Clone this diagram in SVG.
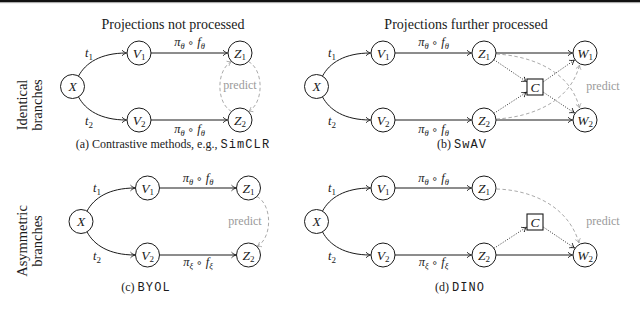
<svg xmlns="http://www.w3.org/2000/svg" width="640" height="315" viewBox="0 0 640 315">
<style>
.node{fill:#fff;stroke:#1a1a1a;stroke-width:1}
.box{fill:#fff;stroke:#1a1a1a;stroke-width:1.1}
.lbl{font-family:"Liberation Serif","Times New Roman",serif;font-style:italic;font-size:13.5px;fill:#1a1a1a;text-anchor:middle}
.sub{font-style:normal;font-size:9px}
.isub{font-size:8.5px}
.el{font-family:"Liberation Serif","DejaVu Serif",serif;font-style:italic;font-size:12.5px;fill:#1a1a1a;text-anchor:middle}
.op{font-style:normal;font-family:"DejaVu Sans",sans-serif;font-size:10px}
.title{font-family:"Liberation Serif","Times New Roman",serif;font-size:14px;fill:#1a1a1a;text-anchor:middle}
.cap{font-family:"Liberation Serif","Times New Roman",serif;font-size:12px;fill:#1a1a1a;text-anchor:middle}
.mono{font-family:"Liberation Mono","Courier New",monospace;font-size:12px;letter-spacing:1.1px}
.side{font-family:"Liberation Serif","Times New Roman",serif;font-size:14.5px;fill:#1a1a1a;text-anchor:middle}
.pred{font-family:"Liberation Serif","Times New Roman",serif;font-size:12px;fill:#9a9a9a;text-anchor:middle}
.solid{fill:none;stroke:#1a1a1a;stroke-width:1;marker-end:url(#ah)}
.dot{fill:none;stroke:#333;stroke-width:1;stroke-dasharray:1 1.6;marker-end:url(#ah)}
.dash{fill:none;stroke:#a0a0a0;stroke-width:0.9;stroke-dasharray:3.5 2.5;marker-end:url(#ahg)}
</style>
<defs>
<marker id="ah" markerUnits="userSpaceOnUse" markerWidth="8" markerHeight="8" orient="auto" overflow="visible">
<path d="M-4.5,-2.8 C-3,-1.2 -1.2,-0.4 0,0 C-1.2,0.4 -3,1.2 -4.5,2.8" fill="none" stroke="#1a1a1a" stroke-width="0.9"/>
</marker>
<marker id="ahg" markerUnits="userSpaceOnUse" markerWidth="8" markerHeight="8" orient="auto" overflow="visible">
<path d="M-4.2,-2.6 C-2.8,-1.1 -1.1,-0.4 0,0 C-1.1,0.4 -2.8,1.1 -4.2,2.6" fill="none" stroke="#a0a0a0" stroke-width="0.8"/>
</marker>
</defs>
<rect x="0" y="0" width="640" height="315" fill="#fff"/>
<rect x="0" y="0" width="640" height="2.2" fill="#111"/>
<line x1="0" y1="2.7" x2="640" y2="2.7" stroke="#888" stroke-width="0.6"/>

<g id="texts">
<text class="title" x="173" y="29">Projections not processed</text>
<text class="title" x="466" y="29">Projections further processed</text>
<text class="side" transform="translate(27,105) rotate(-90)">Identical</text>
<text class="side" transform="translate(42,105) rotate(-90)">branches</text>
<text class="side" transform="translate(27,241) rotate(-90)">Asymmetric</text>
<text class="side" transform="translate(42,241) rotate(-90)">branches</text>
<text class="cap" x="173" y="148">(a) Contrastive methods, e.g., <tspan class="mono">SimCLR</tspan></text>
<text class="cap" x="462" y="148">(b) <tspan class="mono">SwAV</tspan></text>
<text class="cap" x="146" y="291">(c) <tspan class="mono">BYOL</tspan></text>
<text class="cap" x="460" y="291">(d) <tspan class="mono">DINO</tspan></text>
</g>

<g id="connectors">
<!-- (a) -->
<path class="solid" d="M78.5,76.1 C85.5,63 100.5,53 126.5,53"/>
<path class="solid" d="M78.5,96.9 C85.5,110 100.5,120 126.5,120"/>
<path class="solid" d="M151,53 H227.5"/>
<path class="solid" d="M151,120 H227.5"/>
<path class="dash" d="M231.5,111.5 C216,103 216,70 231.5,61.5"/>
<path class="dash" d="M248.5,61.5 C264,70 264,103 248.5,111.5"/>
<!-- (b) -->
<path class="solid" d="M322.5,76.1 C329.5,63 344.5,53 370.5,53"/>
<path class="solid" d="M322.5,96.9 C329.5,110 344.5,120 370.5,120"/>
<path class="solid" d="M395,53 H471.5"/>
<path class="solid" d="M395,120 H471.5"/>
<path class="solid" d="M496,53 H572.5"/>
<path class="solid" d="M496,120 H572.5"/>
<path class="dot" d="M494,59.7 L526.5,81.7"/>
<path class="dot" d="M494,113.3 L526.5,92.3"/>
<path class="dot" d="M543.5,81.7 L574.5,60"/>
<path class="dot" d="M543.5,92.3 L574.5,113"/>
<path class="dash" d="M496.5,54 C530,56 570,70 579.5,108"/>
<path class="dash" d="M496.5,119 C530,117 570,103 579.5,65"/>
<!-- (c) -->
<path class="solid" d="M87,211.1 C94,198 109,188 135,188"/>
<path class="solid" d="M87,231.9 C94,245 109,255 135,255"/>
<path class="solid" d="M159.5,188 H236"/>
<path class="solid" d="M159.5,255 H236"/>
<path class="dash" d="M257,196.5 C272.5,205 272.5,238 257,246.5"/>
<!-- (d) -->
<path class="solid" d="M322.5,211.1 C329.5,198 344.5,188 370.5,188"/>
<path class="solid" d="M322.5,231.9 C329.5,245 344.5,255 370.5,255"/>
<path class="solid" d="M395,188 H471.5"/>
<path class="solid" d="M395,255 H471.5"/>
<path class="solid" d="M496,255 H572.5"/>
<path class="dot" d="M494,248.3 L526.5,227.2"/>
<path class="dot" d="M543.5,227.2 L574.5,248"/>
<path class="dash" d="M496.5,189 C530,190 568,205 579,243"/>
</g>

<g id="edge-labels">
<text class="el" x="89" y="57">t<tspan class="sub" dy="2.5">1</tspan></text>
<text class="el" x="89" y="125">t<tspan class="sub" dy="2.5">2</tspan></text>
<text class="el" x="189.5" y="46">π<tspan class="isub" dy="2.5">θ</tspan><tspan dy="-2.5"> </tspan><tspan class="op">∘</tspan> f<tspan class="isub" dy="2.5">θ</tspan></text>
<text class="el" x="189.5" y="133">π<tspan class="isub" dy="2.5">θ</tspan><tspan dy="-2.5"> </tspan><tspan class="op">∘</tspan> f<tspan class="isub" dy="2.5">θ</tspan></text>
<text class="pred" x="240" y="89">predict</text>

<text class="el" x="332" y="57">t<tspan class="sub" dy="2.5">1</tspan></text>
<text class="el" x="332" y="125">t<tspan class="sub" dy="2.5">2</tspan></text>
<text class="el" x="433.5" y="46">π<tspan class="isub" dy="2.5">θ</tspan><tspan dy="-2.5"> </tspan><tspan class="op">∘</tspan> f<tspan class="isub" dy="2.5">θ</tspan></text>
<text class="el" x="433.5" y="133">π<tspan class="isub" dy="2.5">θ</tspan><tspan dy="-2.5"> </tspan><tspan class="op">∘</tspan> f<tspan class="isub" dy="2.5">θ</tspan></text>
<text class="pred" x="603" y="90">predict</text>

<text class="el" x="97" y="192">t<tspan class="sub" dy="2.5">1</tspan></text>
<text class="el" x="97" y="260">t<tspan class="sub" dy="2.5">2</tspan></text>
<text class="el" x="198" y="182">π<tspan class="isub" dy="2.5">θ</tspan><tspan dy="-2.5"> </tspan><tspan class="op">∘</tspan> f<tspan class="isub" dy="2.5">θ</tspan></text>
<text class="el" x="198" y="266">π<tspan class="isub" dy="2.5">ξ</tspan><tspan dy="-2.5"> </tspan><tspan class="op">∘</tspan> f<tspan class="isub" dy="2.5">ξ</tspan></text>
<text class="pred" x="245" y="225">predict</text>

<text class="el" x="332" y="192">t<tspan class="sub" dy="2.5">1</tspan></text>
<text class="el" x="332" y="260">t<tspan class="sub" dy="2.5">2</tspan></text>
<text class="el" x="433.5" y="182">π<tspan class="isub" dy="2.5">θ</tspan><tspan dy="-2.5"> </tspan><tspan class="op">∘</tspan> f<tspan class="isub" dy="2.5">θ</tspan></text>
<text class="el" x="433.5" y="266">π<tspan class="isub" dy="2.5">ξ</tspan><tspan dy="-2.5"> </tspan><tspan class="op">∘</tspan> f<tspan class="isub" dy="2.5">ξ</tspan></text>
<text class="pred" x="603" y="225">predict</text>
</g>

<!-- (a) nodes -->
<g id="a-X"><circle class="node" cx="72.5" cy="86.5" r="12"/><text class="lbl" x="72.5" y="91.2">X</text></g>
<g id="a-V1"><circle class="node" cx="139" cy="53" r="12"/><text class="lbl" x="139" y="57.5">V<tspan class="sub" dy="2">1</tspan></text></g>
<g id="a-V2"><circle class="node" cx="139" cy="120" r="12"/><text class="lbl" x="139" y="124.5">V<tspan class="sub" dy="2">2</tspan></text></g>
<g id="a-Z1"><circle class="node" cx="240" cy="53" r="12"/><text class="lbl" x="240" y="57.5">Z<tspan class="sub" dy="2">1</tspan></text></g>
<g id="a-Z2"><circle class="node" cx="240" cy="120" r="12"/><text class="lbl" x="240" y="124.5">Z<tspan class="sub" dy="2">2</tspan></text></g>
<!-- (b) nodes -->
<g id="b-X"><circle class="node" cx="316.5" cy="86.5" r="12"/><text class="lbl" x="316.5" y="91.2">X</text></g>
<g id="b-V1"><circle class="node" cx="383" cy="53" r="12"/><text class="lbl" x="383" y="57.5">V<tspan class="sub" dy="2">1</tspan></text></g>
<g id="b-V2"><circle class="node" cx="383" cy="120" r="12"/><text class="lbl" x="383" y="124.5">V<tspan class="sub" dy="2">2</tspan></text></g>
<g id="b-Z1"><circle class="node" cx="484" cy="53" r="12"/><text class="lbl" x="484" y="57.5">Z<tspan class="sub" dy="2">1</tspan></text></g>
<g id="b-Z2"><circle class="node" cx="484" cy="120" r="12"/><text class="lbl" x="484" y="124.5">Z<tspan class="sub" dy="2">2</tspan></text></g>
<g id="b-W1"><circle class="node" cx="585" cy="53" r="12"/><text class="lbl" x="585" y="57.5">W<tspan class="sub" dy="2">1</tspan></text></g>
<g id="b-W2"><circle class="node" cx="585" cy="120" r="12"/><text class="lbl" x="585" y="124.5">W<tspan class="sub" dy="2">2</tspan></text></g>
<g id="b-C"><rect class="box" x="527" y="79" width="16" height="16"/><text class="lbl" x="535" y="91.7">C</text></g>
<!-- (c) nodes -->
<g id="c-X"><circle class="node" cx="81" cy="221.5" r="12"/><text class="lbl" x="81" y="226.2">X</text></g>
<g id="c-V1"><circle class="node" cx="147.5" cy="188" r="12"/><text class="lbl" x="147.5" y="192.5">V<tspan class="sub" dy="2">1</tspan></text></g>
<g id="c-V2"><circle class="node" cx="147.5" cy="255" r="12"/><text class="lbl" x="147.5" y="259.5">V<tspan class="sub" dy="2">2</tspan></text></g>
<g id="c-Z1"><circle class="node" cx="248.5" cy="188" r="12"/><text class="lbl" x="248.5" y="192.5">Z<tspan class="sub" dy="2">1</tspan></text></g>
<g id="c-Z2"><circle class="node" cx="248.5" cy="255" r="12"/><text class="lbl" x="248.5" y="259.5">Z<tspan class="sub" dy="2">2</tspan></text></g>
<!-- (d) nodes -->
<g id="d-X"><circle class="node" cx="316.5" cy="221.5" r="12"/><text class="lbl" x="316.5" y="226.2">X</text></g>
<g id="d-V1"><circle class="node" cx="383" cy="188" r="12"/><text class="lbl" x="383" y="192.5">V<tspan class="sub" dy="2">1</tspan></text></g>
<g id="d-V2"><circle class="node" cx="383" cy="255" r="12"/><text class="lbl" x="383" y="259.5">V<tspan class="sub" dy="2">2</tspan></text></g>
<g id="d-Z1"><circle class="node" cx="484" cy="188" r="12"/><text class="lbl" x="484" y="192.5">Z<tspan class="sub" dy="2">1</tspan></text></g>
<g id="d-Z2"><circle class="node" cx="484" cy="255" r="12"/><text class="lbl" x="484" y="259.5">Z<tspan class="sub" dy="2">2</tspan></text></g>
<g id="d-W2"><circle class="node" cx="585" cy="255" r="12"/><text class="lbl" x="585" y="259.5">W<tspan class="sub" dy="2">2</tspan></text></g>
<g id="d-C"><rect class="box" x="527" y="214" width="16" height="16"/><text class="lbl" x="535" y="226.7">C</text></g>
</svg>
